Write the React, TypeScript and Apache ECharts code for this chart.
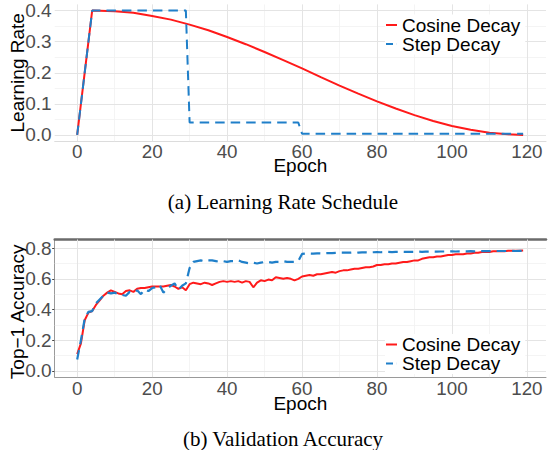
import React, { useEffect, useRef } from "react";
import * as echarts from "echarts";

// ---- tick positions ----
const xTicks = [0, 20, 40, 60, 80, 100, 120];
const xMinorTicks = [10, 30, 50, 70, 90, 110];
const lrTicks = [0, 0.1, 0.2, 0.3, 0.4];
const lrMinorTicks = [0.05, 0.15, 0.25, 0.35];
const accTicks = [0, 0.2, 0.4, 0.6, 0.8];
const accMinorTicks = [0.1, 0.3, 0.5, 0.7];

// ---- (a) learning rate schedule ----
const cosineLREpochs = [0, 4, 10, 15, 20, 25, 30, 35, 40, 45, 50, 55, 60, 65, 70, 75, 80, 85, 90, 95, 100, 105, 110, 115, 119];
const cosineLR = [0, 0.4, 0.398, 0.393, 0.383, 0.371, 0.355, 0.337, 0.315, 0.292, 0.267, 0.241, 0.214, 0.186, 0.159, 0.133, 0.108, 0.085, 0.064, 0.045, 0.029, 0.017, 0.007, 0.002, 0.0];
const stepLREpochs = [0, 4, 29, 30, 59, 60, 119];
const stepLR = [0, 0.4, 0.4, 0.04, 0.04, 0.004, 0.004];

// ---- (b) validation accuracy, one value per epoch 0..119 ----
const cosineAcc = [
  0.11, 0.18, 0.33, 0.38, 0.39, 0.43, 0.46, 0.49, 0.51, 0.525,
  0.515, 0.505, 0.5, 0.52, 0.525, 0.515, 0.535, 0.54, 0.54, 0.545,
  0.55, 0.55, 0.55, 0.55, 0.555, 0.56, 0.55, 0.535, 0.545, 0.525,
  0.565, 0.575, 0.57, 0.565, 0.575, 0.57, 0.56, 0.57, 0.58, 0.585,
  0.58, 0.585, 0.58, 0.585, 0.575, 0.585, 0.58, 0.545, 0.575, 0.59,
  0.585, 0.595, 0.59, 0.61, 0.605, 0.6, 0.605, 0.6, 0.59, 0.6,
  0.615, 0.62, 0.625, 0.62, 0.63, 0.63, 0.635, 0.64, 0.645, 0.64,
  0.65, 0.655, 0.655, 0.66, 0.665, 0.665, 0.67, 0.675, 0.675, 0.68,
  0.69, 0.69, 0.695, 0.695, 0.7, 0.7, 0.705, 0.71, 0.71, 0.715,
  0.72, 0.72, 0.73, 0.735, 0.74, 0.74, 0.745, 0.745, 0.75, 0.755,
  0.755, 0.76, 0.76, 0.76, 0.765, 0.765, 0.77, 0.77, 0.775, 0.775,
  0.775, 0.78, 0.78, 0.78, 0.78, 0.782, 0.782, 0.783, 0.783, 0.784,
];
const stepAcc = [
  0.075, 0.2, 0.34, 0.385, 0.39, 0.44, 0.465, 0.49, 0.51, 0.505,
  0.51, 0.5, 0.495, 0.49, 0.515, 0.51, 0.525, 0.5, 0.53, 0.52,
  0.54, 0.545, 0.56, 0.51, 0.535, 0.555, 0.57, 0.53, 0.555, 0.57,
  0.67, 0.71, 0.715, 0.72, 0.715, 0.72, 0.72, 0.715, 0.71, 0.715,
  0.71, 0.715, 0.715, 0.72, 0.71, 0.705, 0.7, 0.705, 0.7, 0.705,
  0.71, 0.71, 0.705, 0.71, 0.71, 0.715, 0.71, 0.71, 0.71, 0.715,
  0.762, 0.765, 0.765, 0.764, 0.766, 0.765, 0.767, 0.768, 0.767, 0.769,
  0.77, 0.77, 0.771, 0.77, 0.772, 0.771, 0.772, 0.773, 0.772, 0.773,
  0.774, 0.773, 0.774, 0.775, 0.774, 0.775, 0.775, 0.776, 0.775, 0.776,
  0.776, 0.777, 0.776, 0.777, 0.777, 0.778, 0.777, 0.778, 0.778, 0.778,
  0.779, 0.778, 0.779, 0.779, 0.779, 0.78, 0.779, 0.78, 0.78, 0.78,
  0.781, 0.78, 0.781, 0.781, 0.781, 0.781, 0.782, 0.781, 0.782, 0.782,
];

const captionA = "(a) Learning Rate Schedule";
const captionB = "(b) Validation Accuracy";

const SANS = '"Liberation Sans", Arial, Helvetica, sans-serif';
const SERIF = '"Liberation Serif", "Times New Roman", serif';
const RED = "#ff1a1a";
const BLUE = "#1f7fc9";
const DASH = [9.5, 6];

function gridLines(xMaj: number[], xMin: number[], yMaj: number[], yMin: number[]) {
  const major = { color: "#e4e4e4", width: 1, type: "solid" };
  const minor = { color: "#f1f1f1", width: 0.8, type: "solid" };
  return [
    ...xMin.map((v) => ({ xAxis: v, lineStyle: minor })),
    ...yMin.map((v) => ({ yAxis: v, lineStyle: minor })),
    ...xMaj.map((v) => ({ xAxis: v, lineStyle: major })),
    ...yMaj.map((v) => ({ yAxis: v, lineStyle: major })),
  ];
}

function gridSeries(idx: number, anchor: number[], yMaj: number[], yMin: number[]) {
  return {
    type: "line",
    name: "_grid" + idx,
    xAxisIndex: idx,
    yAxisIndex: idx,
    data: [anchor],
    showSymbol: false,
    symbol: "none",
    lineStyle: { opacity: 0 },
    silent: true,
    z: 1,
    markLine: {
      silent: true,
      z: 1,
      symbol: ["none", "none"],
      label: { show: false },
      lineStyle: { type: "solid" },
      emphasis: { disabled: true },
      data: gridLines(xTicks, xMinorTicks, yMaj, yMin),
    },
  };
}

function xAxisCfg(grid: number, lineColor: string, labelMargin: number, gap: number) {
  return {
    type: "value",
    gridIndex: grid,
    min: -6,
    max: 125.1,
    axisLine: { show: true, onZero: false, lineStyle: { color: lineColor, width: 1 } },
    axisTick: { show: false },
    splitLine: { show: false },
    axisLabel: {
      customValues: xTicks,
      fontSize: 18.8,
      lineHeight: 13,
      color: "#4d4d4d",
      fontFamily: SANS,
      margin: labelMargin,
    },
    name: "Epoch",
    nameLocation: "middle",
    nameGap: gap,
    nameMoveOverlap: false,
    nameTextStyle: { fontSize: 19, lineHeight: 13, color: "#000", fontFamily: SANS },
  };
}

const LINE_ICON = "path://M0,0h11v2h-11z";
const DASH_ICON = "path://M0,0h7v2h-7zM10.9,0h0.1v2h-0.1z";

const legendBase = {
  orient: "vertical",
  left: 385,
  itemWidth: 11,
  itemHeight: 2,
  itemGap: 0,
  padding: [1, 5, 1, 1],
  backgroundColor: "#fff",
  selectedMode: false,
  textStyle: { fontSize: 19, color: "#000", fontFamily: SANS, lineHeight: 16 },
  data: [
    { name: "Cosine Decay", icon: LINE_ICON },
    { name: "Step Decay", icon: DASH_ICON },
  ],
};

export default function App() {
  const ref = useRef<HTMLDivElement>(null);
  useEffect(() => {
    document.body.style.margin = "0";
    if (!ref.current) return;
    const chart = echarts.init(ref.current, undefined, { renderer: "svg" });
    const epochs = cosineAcc.map((_, i) => i);
    chart.setOption({
      animation: false,
      backgroundColor: "#fff",
      grid: [
        { left: 54.7, top: 4.4, width: 491.3, height: 136.8, containLabel: false, outerBoundsMode: "none" },
        { left: 54.7, top: 239.5, width: 491.3, height: 137.6, containLabel: false, outerBoundsMode: "none" },
      ],
      xAxis: [
        xAxisCfg(0, "#dcdcdc", 4, 17.7),
        xAxisCfg(1, "#9a9a9a", 4.7, 19.7),
        {
          type: "value",
          gridIndex: 1,
          position: "top",
          min: -6,
          max: 125.1,
          axisLine: { show: true, onZero: false, lineStyle: { color: "#6b6b6b", width: 2.5 } },
          axisTick: { show: false },
          axisLabel: { show: false },
          splitLine: { show: false },
        },
      ],
      yAxis: [
        {
          type: "value",
          gridIndex: 0,
          min: -0.02,
          max: 0.42,
          axisLine: { show: false },
          axisTick: { show: true, customValues: lrTicks, length: 2.5, lineStyle: { color: "#444" } },
          splitLine: { show: false },
          axisLabel: {
            customValues: lrTicks,
            formatter: (v: number) => v.toFixed(1),
            fontSize: 19,
            color: "#4d4d4d",
            fontFamily: SANS,
            margin: 3,
          },
          name: "Learning Rate",
          nameLocation: "middle",
          nameGap: 28,
          nameRotate: 90,
          nameMoveOverlap: false,
          nameTextStyle: { fontSize: 19, color: "#000", fontFamily: SANS },
        },
        {
          type: "value",
          gridIndex: 1,
          min: -0.04,
          max: 0.856,
          axisLine: { show: true, onZero: false, lineStyle: { color: "#9a9a9a", width: 1 } },
          axisTick: { show: true, customValues: accTicks, length: 2.5, lineStyle: { color: "#444" } },
          splitLine: { show: false },
          axisLabel: {
            customValues: accTicks,
            formatter: (v: number) => v.toFixed(1),
            fontSize: 19,
            color: "#4d4d4d",
            fontFamily: SANS,
            margin: 3,
          },
          name: "Top\u22121 Accuracy",
          nameLocation: "middle",
          nameGap: 28,
          nameRotate: 90,
          nameMoveOverlap: false,
          nameTextStyle: { fontSize: 19, color: "#000", fontFamily: SANS, padding: [0, 7, 0, 0] },
        },
      ],
      legend: [
        { ...legendBase, top: 14.5 },
        { ...legendBase, top: 334 },
      ],
      series: [
        gridSeries(0, [-6, -0.02], lrTicks, lrMinorTicks),
        gridSeries(1, [-6, -0.04], accTicks, accMinorTicks),
        {
          type: "line",
          name: "Cosine Decay",
          xAxisIndex: 0,
          yAxisIndex: 0,
          data: cosineLREpochs.map((e, i) => [e, cosineLR[i]]),
          showSymbol: false,
          symbol: "none",
          lineStyle: { color: RED, width: 2 },
          itemStyle: { color: RED },
          z: 3,
        },
        {
          type: "line",
          name: "Step Decay",
          xAxisIndex: 0,
          yAxisIndex: 0,
          data: stepLREpochs.map((e, i) => [e, stepLR[i]]),
          showSymbol: false,
          symbol: "none",
          lineStyle: { color: BLUE, width: 2, type: DASH },
          itemStyle: { color: BLUE },
          z: 4,
        },
        {
          type: "line",
          name: "Cosine Decay",
          xAxisIndex: 1,
          yAxisIndex: 1,
          data: epochs.map((e) => [e, cosineAcc[e]]),
          showSymbol: false,
          symbol: "none",
          lineStyle: { color: RED, width: 2 },
          itemStyle: { color: RED },
          z: 3,
        },
        {
          type: "line",
          name: "Step Decay",
          xAxisIndex: 1,
          yAxisIndex: 1,
          data: epochs.map((e) => [e, stepAcc[e]]),
          showSymbol: false,
          symbol: "none",
          lineStyle: { color: BLUE, width: 2.2, type: DASH },
          itemStyle: { color: BLUE },
          z: 4,
        },
      ],
      graphic: [
        {
          type: "text",
          x: 283,
          y: 202,
          style: {
            text: captionA,
            fontFamily: SERIF,
            fontSize: 21,
            fill: "#000",
            textAlign: "center",
            textVerticalAlign: "middle",
          },
        },
        {
          type: "text",
          x: 283,
          y: 439,
          style: {
            text: captionB,
            fontFamily: SERIF,
            fontSize: 21,
            fill: "#000",
            textAlign: "center",
            textVerticalAlign: "middle",
          },
        },
      ],
    });
    return () => chart.dispose();
  }, []);
  return <div ref={ref} style={{ width: 548, height: 450 }} />;
}
